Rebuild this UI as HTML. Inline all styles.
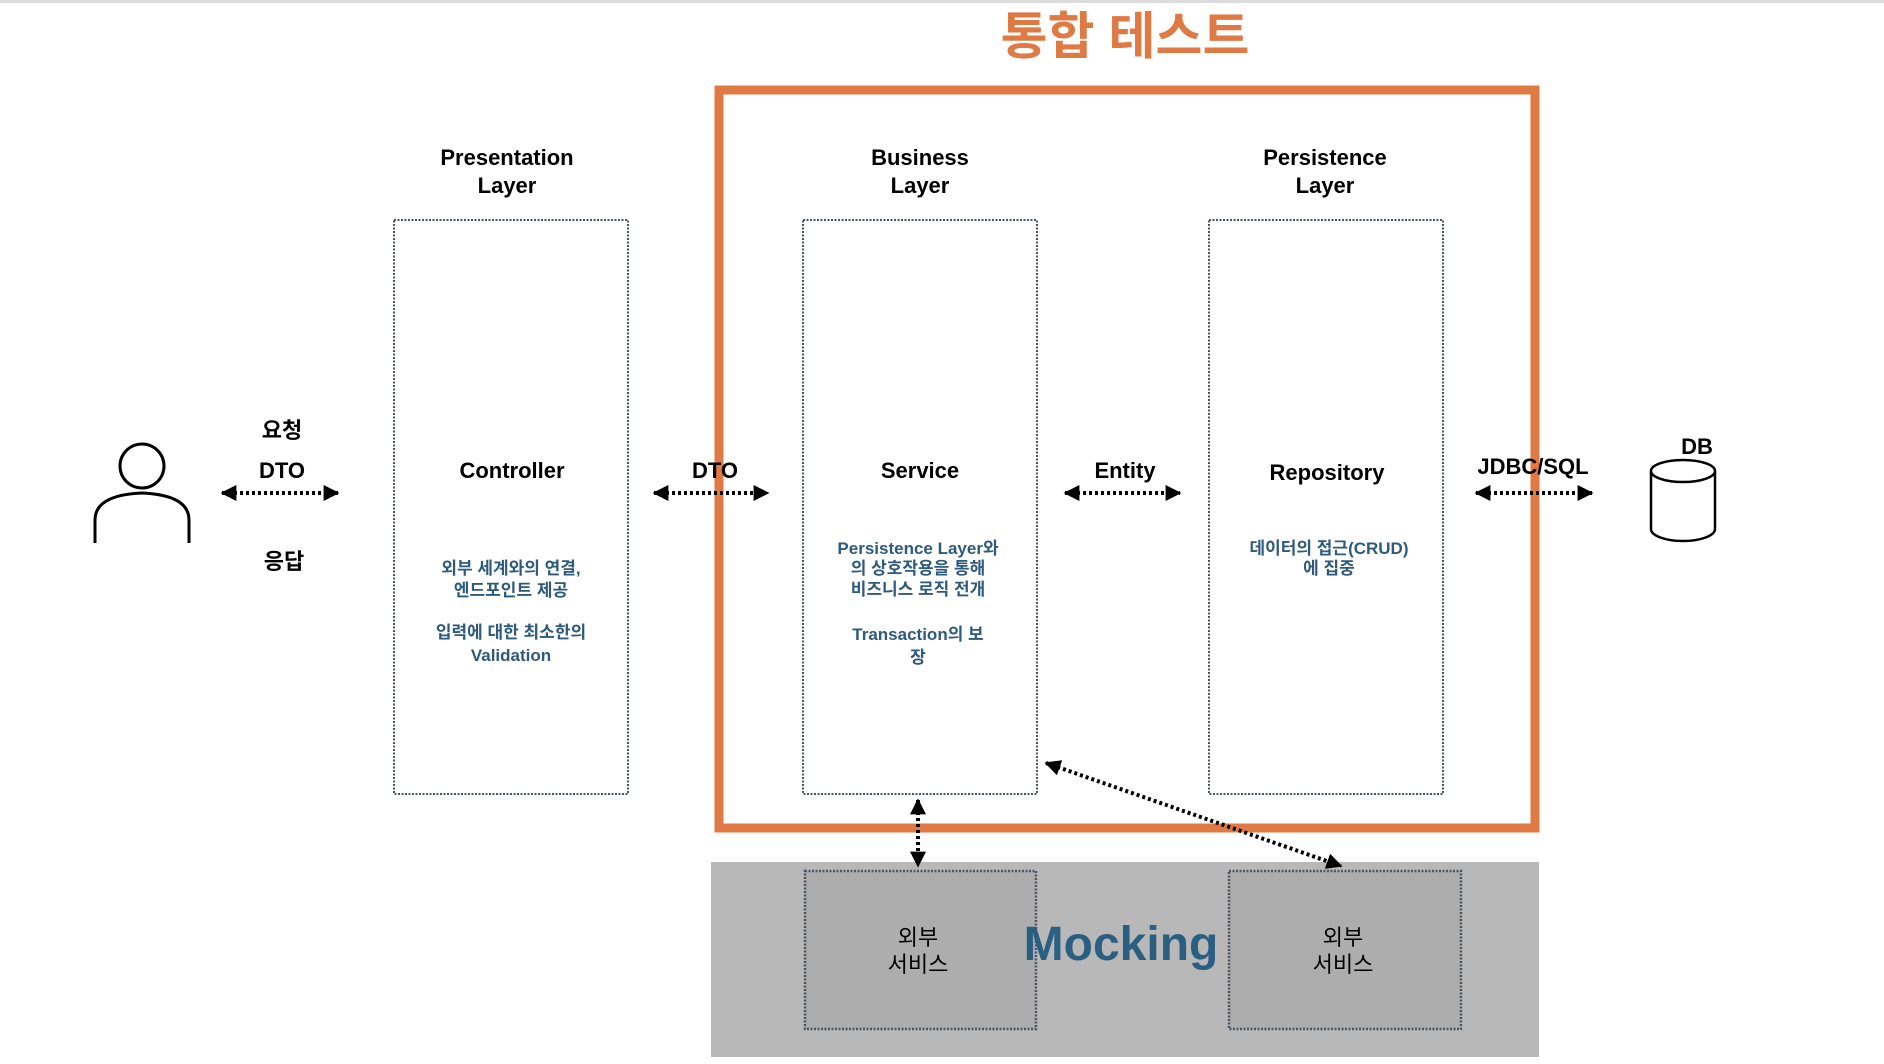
<!DOCTYPE html>
<html><head><meta charset="utf-8"><style>
html,body{margin:0;padding:0;background:#fff;}
svg{display:block;}
text{font-family:"Liberation Sans","Noto Sans CJK KR",sans-serif;font-weight:bold;}
</style></head><body>
<svg width="1884" height="1064" viewBox="0 0 1884 1064" xmlns="http://www.w3.org/2000/svg">
<defs>
<marker id="ah" viewBox="0 0 10 10" refX="9" refY="5" markerWidth="4" markerHeight="4" orient="auto-start-reverse"><path d="M0,0 L10,5 L0,10 z" fill="#000"/></marker>
</defs>
<rect x="0" y="0" width="1884" height="3" fill="#dcdcdc"/>
<text x="1125" y="54" font-size="51" fill="#e07a45" text-anchor="middle">통합 테스트</text>
<rect x="711" y="862" width="828" height="195" fill="#b8b8b8"/>
<rect x="805" y="871" width="231" height="158" fill="#adadad" stroke="#4a5660" stroke-width="2.5" stroke-dasharray="2,1.5"/>
<rect x="1229" y="871" width="232" height="158" fill="#adadad" stroke="#4a5660" stroke-width="2.5" stroke-dasharray="2,1.5"/>
<text x="1121" y="960" font-size="48" fill="#2b5f82" text-anchor="middle">Mocking</text>
<text font-size="22" fill="#000" text-anchor="middle" style="font-weight:normal"><tspan x="918" y="945">외부</tspan><tspan x="918" y="972">서비스</tspan></text>
<text font-size="22" fill="#000" text-anchor="middle" style="font-weight:normal"><tspan x="1343" y="945">외부</tspan><tspan x="1343" y="972">서비스</tspan></text>
<rect x="719" y="90" width="816" height="738" fill="none" stroke="#e07a45" stroke-width="9"/>
<g fill="none" stroke="#4a5660" stroke-width="2" stroke-dasharray="2,1.5">
<rect x="394" y="220" width="234" height="574"/>
<rect x="803" y="220" width="234" height="574"/>
<rect x="1209" y="220" width="234" height="574"/>
</g>
<g font-size="22" fill="#000" text-anchor="middle">
<text><tspan x="507" y="165">Presentation</tspan><tspan x="507" y="193">Layer</tspan></text>
<text><tspan x="920" y="165">Business</tspan><tspan x="920" y="193">Layer</tspan></text>
<text><tspan x="1325" y="165">Persistence</tspan><tspan x="1325" y="193">Layer</tspan></text>
<text x="512" y="478">Controller</text>
<text x="920" y="478">Service</text>
<text x="1327" y="480">Repository</text>
<text x="282" y="438">요청</text>
<text x="282" y="478">DTO</text>
<text x="284" y="569">응답</text>
<text x="715" y="478">DTO</text>
<text x="1125" y="478">Entity</text>
<text x="1533" y="474">JDBC/SQL</text>
<text x="1697" y="454">DB</text>
</g>
<g font-size="17" fill="#2e5a7c" text-anchor="middle">
<text><tspan x="511" y="574">외부 세계와의 연결,</tspan><tspan x="511" y="596">엔드포인트 제공</tspan><tspan x="511" y="638">입력에 대한 최소한의</tspan><tspan x="511" y="661">Validation</tspan></text>
<text><tspan x="918" y="554">Persistence Layer와</tspan><tspan x="918" y="574">의 상호작용을 통해</tspan><tspan x="918" y="595">비즈니스 로직 전개</tspan><tspan x="918" y="640">Transaction의 보</tspan><tspan x="918" y="663">장</tspan></text>
<text><tspan x="1329" y="554">데이터의 접근(CRUD)</tspan><tspan x="1329" y="574">에 집중</tspan></text>
</g>
<circle cx="142" cy="466" r="22" fill="none" stroke="#000" stroke-width="3"/>
<path d="M95,543 L95,520 Q95,495 142,493 Q189,495 189,520 L189,543" fill="none" stroke="#000" stroke-width="3"/>
<g fill="#fff" stroke="#000" stroke-width="2.5">
<path d="M1651,471 L1651,529 A32,12 0 0 0 1715,529 L1715,471"/>
<ellipse cx="1683" cy="471" rx="32" ry="11"/>
</g>
<g stroke="#000" stroke-width="4" stroke-dasharray="3,3" fill="none" marker-start="url(#ah)" marker-end="url(#ah)">
<line x1="222" y1="493" x2="338" y2="493"/>
<line x1="654" y1="493" x2="768" y2="493"/>
<line x1="1065" y1="493" x2="1180" y2="493"/>
<line x1="1476" y1="493" x2="1592" y2="493"/>
<line x1="918" y1="800" x2="918" y2="866"/>
<line x1="1046" y1="763" x2="1341" y2="866"/>
</g>
</svg>
</body></html>
